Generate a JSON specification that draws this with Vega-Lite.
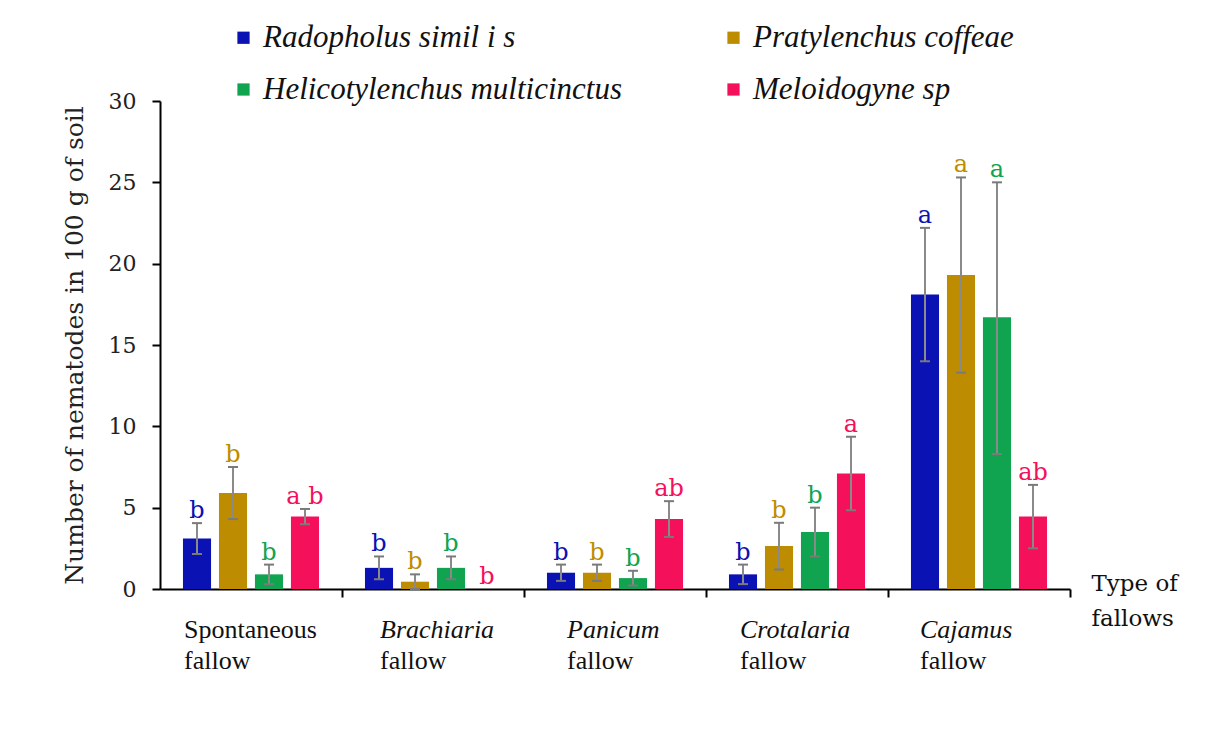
{
  "$schema": "https://vega.github.io/schema/vega-lite/v6.json",
  "width": 910,
  "height": 488,
  "autosize": "none",
  "padding": {"left": 160, "top": 101, "right": 137, "bottom": 166},
  "background": "white",
  "config": {"view": {"stroke": null}, "axis": {"grid": false}},
  "data": {"values": [
    {"fallow": "Spontaneous", "species": "Radopholus simil i s", "mean": 3.1, "lo": 2.15, "hi": 4.05, "letter": "b"},
    {"fallow": "Spontaneous", "species": "Pratylenchus coffeae", "mean": 5.9, "lo": 4.3, "hi": 7.5, "letter": "b"},
    {"fallow": "Spontaneous", "species": "Helicotylenchus multicinctus", "mean": 0.9, "lo": 0.3, "hi": 1.5, "letter": "b"},
    {"fallow": "Spontaneous", "species": "Meloidogyne sp", "mean": 4.45, "lo": 3.98, "hi": 4.92, "letter": "a b"},
    {"fallow": "Brachiaria", "species": "Radopholus simil i s", "mean": 1.3, "lo": 0.6, "hi": 2.0, "letter": "b"},
    {"fallow": "Brachiaria", "species": "Pratylenchus coffeae", "mean": 0.45, "lo": 0.0, "hi": 0.9, "letter": "b"},
    {"fallow": "Brachiaria", "species": "Helicotylenchus multicinctus", "mean": 1.3, "lo": 0.6, "hi": 2.0, "letter": "b"},
    {"fallow": "Brachiaria", "species": "Meloidogyne sp", "mean": 0, "lo": 0, "hi": 0, "letter": "b"},
    {"fallow": "Panicum", "species": "Radopholus simil i s", "mean": 1.0, "lo": 0.5, "hi": 1.5, "letter": "b"},
    {"fallow": "Panicum", "species": "Pratylenchus coffeae", "mean": 1.0, "lo": 0.5, "hi": 1.5, "letter": "b"},
    {"fallow": "Panicum", "species": "Helicotylenchus multicinctus", "mean": 0.67, "lo": 0.22, "hi": 1.12, "letter": "b"},
    {"fallow": "Panicum", "species": "Meloidogyne sp", "mean": 4.3, "lo": 3.2, "hi": 5.4, "letter": "ab"},
    {"fallow": "Crotalaria", "species": "Radopholus simil i s", "mean": 0.9, "lo": 0.3, "hi": 1.5, "letter": "b"},
    {"fallow": "Crotalaria", "species": "Pratylenchus coffeae", "mean": 2.64, "lo": 1.2, "hi": 4.07, "letter": "b"},
    {"fallow": "Crotalaria", "species": "Helicotylenchus multicinctus", "mean": 3.5, "lo": 2.0, "hi": 5.0, "letter": "b"},
    {"fallow": "Crotalaria", "species": "Meloidogyne sp", "mean": 7.1, "lo": 4.84, "hi": 9.36, "letter": "a"},
    {"fallow": "Cajamus", "species": "Radopholus simil i s", "mean": 18.1, "lo": 14.0, "hi": 22.2, "letter": "a"},
    {"fallow": "Cajamus", "species": "Pratylenchus coffeae", "mean": 19.3, "lo": 13.3, "hi": 25.3, "letter": "a"},
    {"fallow": "Cajamus", "species": "Helicotylenchus multicinctus", "mean": 16.7, "lo": 8.3, "hi": 25.0, "letter": "a"},
    {"fallow": "Cajamus", "species": "Meloidogyne sp", "mean": 4.45, "lo": 2.5, "hi": 6.4, "letter": "ab"}
  ]},
  "layer": [
    {
      "mark": {"type": "bar"},
      "encoding": {
        "x": {
          "field": "fallow", "type": "nominal",
          "sort": ["Spontaneous", "Brachiaria", "Panicum", "Crotalaria", "Cajamus"],
          "scale": {"paddingInner": 0, "paddingOuter": 0},
          "axis": {
            "orient": "bottom",
            "bandPosition": 1,
            "domainColor": "#000", "domainWidth": 2,
            "tickColor": "#000", "tickWidth": 2, "tickSize": 8,
            "labelFont": "Liberation Serif", "labelFontSize": 26, "labelColor": "#111",
            "labelAlign": "left", "labelBaseline": "top", "labelPadding": 19, "labelAngle": 0, "labelLimit": 0,
            "labelOffset": {"condition": [
              {"test": "datum.value === 'Spontaneous'", "value": -67},
              {"test": "datum.value === 'Brachiaria'", "value": -53},
              {"test": "datum.value === 'Panicum'", "value": -48},
              {"test": "datum.value === 'Crotalaria'", "value": -57}
            ], "value": -59},
            "labelFontStyle": {"condition": {"test": "datum.value === 'Spontaneous'", "value": "normal"}, "value": "italic"},
            "title": ["Type of", "fallows"],
            "titleX": 931, "titleY": -17, "titleAlign": "left", "titleBaseline": "top", "titleAngle": 0,
            "titleFont": "DejaVu Serif", "titleFontSize": 23, "titleFontWeight": "normal", "titleColor": "#111", "titleLineHeight": 35
          }
        },
        "xOffset": {
          "field": "species", "type": "nominal",
          "sort": ["Radopholus simil i s", "Pratylenchus coffeae", "Helicotylenchus multicinctus", "Meloidogyne sp"],
          "scale": {"paddingInner": 0.22, "paddingOuter": 0.638}
        },
        "y": {
          "field": "mean", "type": "quantitative",
          "scale": {"domain": [0, 30], "nice": false},
          "axis": {
            "values": [0, 5, 10, 15, 20, 25, 30],
            "domainColor": "#000", "domainWidth": 2,
            "tickColor": "#000", "tickWidth": 2, "tickSize": 8,
            "labelFont": "DejaVu Serif", "labelFontSize": 22, "labelColor": "#222", "labelPadding": 16,
            "title": "Number of nematodes in 100 g of soil",
            "titleFont": "DejaVu Serif", "titleFontSize": 25, "titleFontWeight": "normal", "titleColor": "#222", "titlePadding": 21
          }
        },
        "color": {
          "field": "species", "type": "nominal",
          "scale": {
            "domain": ["Radopholus simil i s", "Helicotylenchus multicinctus", "Pratylenchus coffeae", "Meloidogyne sp"],
            "range": ["#0A12B4", "#10A450", "#BE8C00", "#F5105C"]
          },
          "legend": {
            "orient": "none", "legendX": 68, "legendY": -79,
            "columns": 2, "columnPadding": 96, "rowPadding": 20,
            "symbolType": "square", "symbolSize": 150, "symbolStrokeWidth": 0,
            "labelFont": "Liberation Serif", "labelFontStyle": "italic", "labelFontSize": 31,
            "labelColor": "#111", "labelOffset": 4, "labelLimit": 600,
            "title": null, "padding": 0
          }
        }
      }
    },
    {
      "transform": [{"filter": "datum.hi > datum.mean"}],
      "mark": {"type": "rule", "color": "#8a8a8a", "strokeWidth": 2},
      "encoding": {
        "x": {"field": "fallow", "type": "nominal", "sort": ["Spontaneous", "Brachiaria", "Panicum", "Crotalaria", "Cajamus"], "axis": null},
        "xOffset": {"field": "species", "type": "nominal", "sort": ["Radopholus simil i s", "Pratylenchus coffeae", "Helicotylenchus multicinctus", "Meloidogyne sp"]},
        "y": {"field": "lo", "type": "quantitative"},
        "y2": {"field": "hi"}
      }
    },
    {
      "transform": [{"filter": "datum.hi > datum.mean"}],
      "mark": {"type": "tick", "color": "#7a7a7a", "size": 10, "thickness": 2, "opacity": 1},
      "encoding": {
        "x": {"field": "fallow", "type": "nominal", "sort": ["Spontaneous", "Brachiaria", "Panicum", "Crotalaria", "Cajamus"], "axis": null},
        "xOffset": {"field": "species", "type": "nominal", "sort": ["Radopholus simil i s", "Pratylenchus coffeae", "Helicotylenchus multicinctus", "Meloidogyne sp"]},
        "y": {"field": "hi", "type": "quantitative"}
      }
    },
    {
      "transform": [{"filter": "datum.hi > datum.mean"}],
      "mark": {"type": "tick", "color": "#7a7a7a", "size": 10, "thickness": 2, "opacity": 1},
      "encoding": {
        "x": {"field": "fallow", "type": "nominal", "sort": ["Spontaneous", "Brachiaria", "Panicum", "Crotalaria", "Cajamus"], "axis": null},
        "xOffset": {"field": "species", "type": "nominal", "sort": ["Radopholus simil i s", "Pratylenchus coffeae", "Helicotylenchus multicinctus", "Meloidogyne sp"]},
        "y": {"field": "lo", "type": "quantitative"}
      }
    },
    {
      "mark": {"type": "text", "font": "DejaVu Serif", "fontSize": 24, "baseline": "alphabetic", "align": "center", "dy": -5},
      "encoding": {
        "x": {
          "field": "fallow", "type": "nominal",
          "sort": ["Spontaneous", "Brachiaria", "Panicum", "Crotalaria", "Cajamus"],
          "axis": {
            "orient": "bottom", "bandPosition": 1,
            "domain": false, "ticks": true, "tickOpacity": 0, "tickSize": 8,
            "labelExpr": "'fallow'",
            "labelFont": "Liberation Serif", "labelFontSize": 26, "labelColor": "#111",
            "labelAlign": "left", "labelBaseline": "top", "labelPadding": 50, "labelAngle": 0,
            "labelOffset": {"condition": [
              {"test": "datum.value === 'Spontaneous'", "value": -67},
              {"test": "datum.value === 'Brachiaria'", "value": -53},
              {"test": "datum.value === 'Panicum'", "value": -48},
              {"test": "datum.value === 'Crotalaria'", "value": -57}
            ], "value": -59},
            "title": null
          }
        },
        "xOffset": {"field": "species", "type": "nominal", "sort": ["Radopholus simil i s", "Pratylenchus coffeae", "Helicotylenchus multicinctus", "Meloidogyne sp"]},
        "y": {"field": "hi", "type": "quantitative"},
        "text": {"field": "letter"},
        "color": {"field": "species", "type": "nominal", "legend": null}
      }
    }
  ],
  "resolve": {"axis": {"x": "independent"}}
}
